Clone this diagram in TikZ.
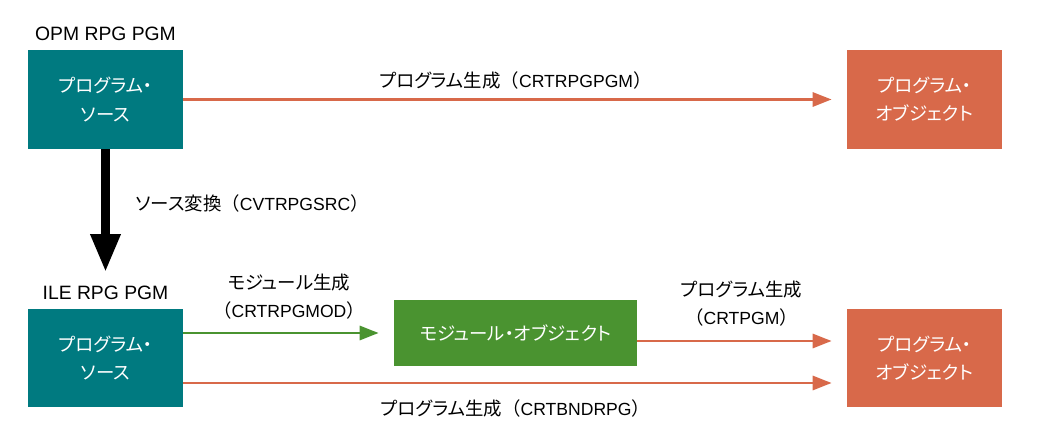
\documentclass[tikz,border=0pt]{standalone}
\usepackage{fontspec}
\setmainfont{Liberation Sans}
\newfontfamily\jp[RawFeature=+palt]{Noto Sans CJK JP}
\newfontfamily\jpf{Noto Sans CJK JP}
\newcommand{\jt}[1]{{\jp\fontsize{10.5}{16}\selectfont #1}}
\newcommand{\jpar}[1]{{\jpf\fontsize{10.5}{16}\selectfont #1}}
\usetikzlibrary{arrows.meta,calc}
\definecolor{srcteal}{RGB}{0,122,128}
\definecolor{objorange}{RGB}{216,105,74}
\definecolor{modgreen}{RGB}{74,147,48}
\begin{document}
\begin{tikzpicture}[x=0.02cm, y=-0.02cm, font=\fontsize{10}{16}\selectfont, line join=round,
    box/.style={fill=#1, text=white, align=center, inner sep=0pt, minimum width=3.1cm, minimum height=1.98cm, font=\jp\fontsize{10.5}{16}\selectfont},
    lbl/.style={inner sep=0pt, align=center},
    head/.style={inner sep=0pt, font=\fontsize{11}{13}\selectfont},
    arr/.style={draw=#1, line width=1.7pt, -{Triangle[length=0.38cm,width=0.28cm]}}]
    \useasboundingbox (0,0) rectangle (1043,448);
    % OPM
    \node[head] (opm) at (105.5,34) {OPM RPG PGM};
    \node[box=srcteal] (src1) at (105.5,99.5) {プログラム・\\ソース};
    \node[box=objorange] (obj1) at (924.5,99.5) {プログラム・\\オブジェクト};
    \draw[arr=objorange] (src1.east) -- ($(obj1.west)+(-15,0)$)
        node[lbl, midway, xshift=0.16cm, yshift=0.38cm] {\jt{プログラム生成}\jpar{（}CRTRPGPGM\jpar{）}};
    % ILE
    \node[head] (ile) at (105.5,293) {ILE RPG PGM};
    \node[box=srcteal] (src2) at (105.5,358) {プログラム・\\ソース};
    \node[box=modgreen, minimum width=4.86cm, minimum height=1.32cm] (mod) at (515.5,333) {モジュール・オブジェクト};
    \node[box=objorange] (obj2) at (924.5,358) {プログラム・\\オブジェクト};
    % conversion
    \draw[line width=0.18cm, -{Triangle[length=0.76cm,width=0.56cm]}] (src1.south) -- ($(src2.north)+(0,-36)$)
        node[lbl, pos=0.44, anchor=west, xshift=0.51cm] {\jt{ソース変換}\jpar{（}CVTRPGSRC\jpar{）}};
    \draw[arr=modgreen] (src2.east |- mod) -- ($(mod.west)+(-15,0)$)
        node[lbl, midway, xshift=0.16cm, yshift=0.72cm] {\jt{モジュール生成}\\\jpar{（}CRTRPGMOD\jpar{）}};
    \draw[arr=objorange] ($(mod.east)+(0,8)$) -- ($(mod.east -| obj2.west)+(-15,8)$)
        node[lbl, midway, xshift=0.14cm, yshift=0.75cm] {\jt{プログラム生成}\\\jpar{（}CRTPGM\jpar{）}};
    \draw[arr=objorange] ($(src2.east)+(0,25)$) -- ($(obj2.west)+(-15,25)$)
        node[lbl, midway, xshift=0.16cm, yshift=-0.5cm] {\jt{プログラム生成}\jpar{（}CRTBNDRPG\jpar{）}};
\end{tikzpicture}
\end{document}
